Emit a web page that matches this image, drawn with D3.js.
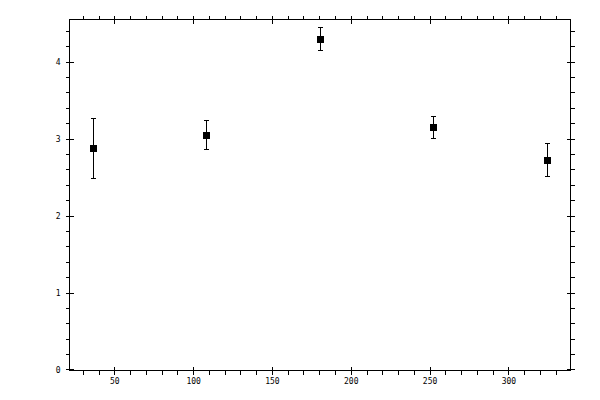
<!DOCTYPE html>
<html>
<head>
<meta charset="utf-8">
<script src="https://cdn.jsdelivr.net/npm/d3@7"></script>
<style>
  body { margin: 0; background: #fff; }
  svg { display: block; }
  .axis text { font-family: "DejaVu Sans Mono", monospace; font-size: 8px; fill: #000; }
  .axis path, .axis line { stroke: #000; shape-rendering: crispEdges; }
</style>
</head>
<body>
<div id="chart"></div>
<script>
// data
const xValues = [36, 108, 180, 252, 324];
const yValues = [2.88, 3.055, 4.305, 3.153, 2.73];
const yErrors = [0.39, 0.19, 0.15, 0.143, 0.215];

const xMajorTicks = [50, 100, 150, 200, 250, 300];
const xMinorTicks = [30, 40, 60, 70, 80, 90, 110, 120, 130, 140, 160, 170, 180, 190,
                     210, 220, 230, 240, 260, 270, 280, 290, 310, 320, 330];
const yMajorTicks = [0, 1, 2, 3, 4];
const yMinorTicks = [0.2, 0.4, 0.6, 0.8, 1.2, 1.4, 1.6, 1.8, 2.2, 2.4, 2.6, 2.8,
                     3.2, 3.4, 3.6, 3.8, 4.2, 4.4];

const width = 600, height = 400;
const margin = {top: 19.5, right: 29.5, bottom: 29.5, left: 69.5};
const w = width - margin.left - margin.right;
const h = height - margin.top - margin.bottom;

const svg = d3.select('#chart').append('svg')
    .attr('width', width)
    .attr('height', height);

const chart = svg.append('g')
    .attr('transform', `translate(${margin.left},${margin.top})`);

const x = d3.scaleLinear().domain([21.6, 339.4]).range([0, w]);
const y = d3.scaleLinear().domain([-0.013, 4.547]).range([h, 0]);

// frame
chart.append('rect')
    .attr('width', w).attr('height', h)
    .attr('fill', 'none').attr('stroke', '#000')
    .attr('shape-rendering', 'crispEdges');

// minor ticks (outward only)
chart.append('g').attr('class', 'axis')
    .attr('transform', `translate(0,${h})`)
    .call(d3.axisBottom(x).tickValues(xMinorTicks).tickSize(4).tickFormat(''))
    .call(g => g.select('.domain').remove());
chart.append('g').attr('class', 'axis')
    .call(d3.axisTop(x).tickValues(xMinorTicks).tickSize(4).tickFormat(''))
    .call(g => g.select('.domain').remove());
chart.append('g').attr('class', 'axis')
    .call(d3.axisLeft(y).tickValues(yMinorTicks).tickSize(4).tickFormat(''))
    .call(g => g.select('.domain').remove());
chart.append('g').attr('class', 'axis')
    .attr('transform', `translate(${w},0)`)
    .call(d3.axisRight(y).tickValues(yMinorTicks).tickSize(4).tickFormat(''))
    .call(g => g.select('.domain').remove());

// major ticks (crossing the frame)
chart.append('g').attr('class', 'axis')
    .attr('transform', `translate(0,${h})`)
    .call(d3.axisBottom(x).tickValues(xMajorTicks).tickSize(4).tickPadding(4).tickFormat(d3.format('d')))
    .call(g => g.select('.domain').remove())
    .call(g => g.selectAll('.tick line').attr('y1', -4));
chart.append('g').attr('class', 'axis')
    .call(d3.axisTop(x).tickValues(xMajorTicks).tickSize(4).tickFormat(''))
    .call(g => g.select('.domain').remove())
    .call(g => g.selectAll('.tick line').attr('y1', 4));
chart.append('g').attr('class', 'axis')
    .call(d3.axisLeft(y).tickValues(yMajorTicks).tickSize(4).tickPadding(5).tickFormat(d3.format('d')))
    .call(g => g.select('.domain').remove())
    .call(g => g.selectAll('.tick line').attr('x1', 4));
chart.append('g').attr('class', 'axis')
    .attr('transform', `translate(${w},0)`)
    .call(d3.axisRight(y).tickValues(yMajorTicks).tickSize(4).tickFormat(''))
    .call(g => g.select('.domain').remove())
    .call(g => g.selectAll('.tick line').attr('x1', -4));

// error bars
const pts = xValues.map((v, i) => ({x: v, y: yValues[i], e: yErrors[i]}));
const bars = chart.append('g')
    .attr('stroke', '#000')
    .attr('shape-rendering', 'crispEdges');

bars.selectAll('.stem')
    .data(pts)
    .join('line')
    .attr('x1', d => Math.round(x(d.x)) + 0.5)
    .attr('x2', d => Math.round(x(d.x)) + 0.5)
    .attr('y1', d => y(d.y - d.e))
    .attr('y2', d => y(d.y + d.e));

bars.selectAll('.cap-top')
    .data(pts)
    .join('line')
    .attr('x1', d => Math.round(x(d.x)) - 2)
    .attr('x2', d => Math.round(x(d.x)) + 3)
    .attr('y1', d => Math.round(y(d.y + d.e)) + 0.5)
    .attr('y2', d => Math.round(y(d.y + d.e)) + 0.5);

bars.selectAll('.cap-bottom')
    .data(pts)
    .join('line')
    .attr('x1', d => Math.round(x(d.x)) - 2)
    .attr('x2', d => Math.round(x(d.x)) + 3)
    .attr('y1', d => Math.round(y(d.y - d.e)) + 0.5)
    .attr('y2', d => Math.round(y(d.y - d.e)) + 0.5);

// square markers
chart.selectAll('.marker')
    .data(pts)
    .join('rect')
    .attr('x', d => Math.round(x(d.x)) - 3)
    .attr('y', d => Math.round(y(d.y)) - 3)
    .attr('width', 7)
    .attr('height', 7)
    .attr('fill', '#000')
    .attr('shape-rendering', 'crispEdges');
</script>
</body>
</html>
